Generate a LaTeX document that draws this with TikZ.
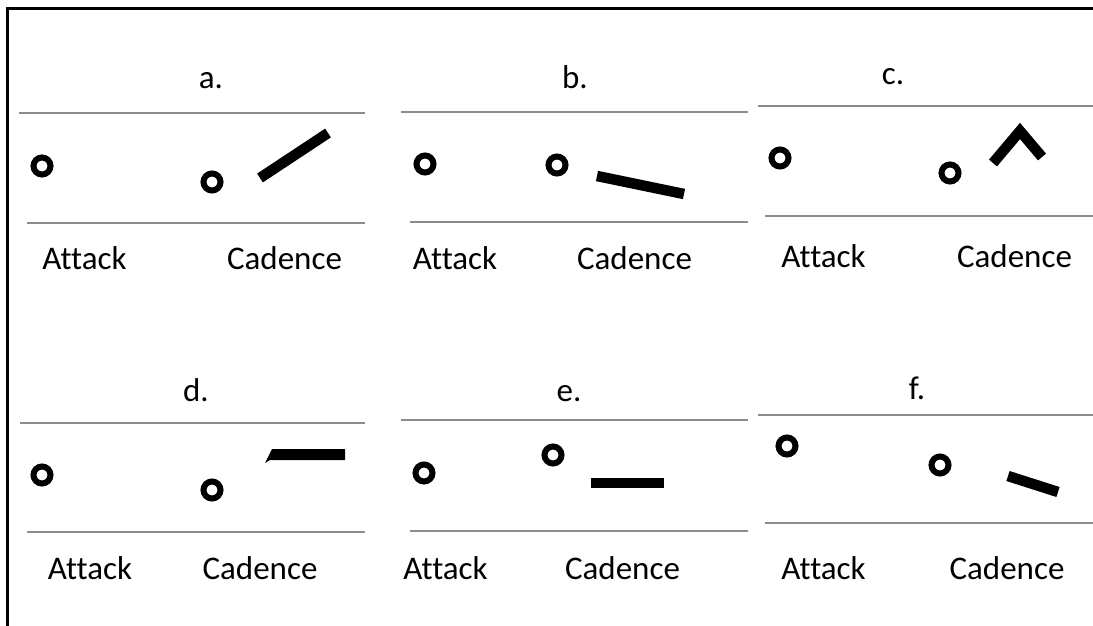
\documentclass[tikz,border=0pt]{standalone}
\usepackage{fontspec}
\setmainfont{Carlito}[Ligatures={NoCommon}]
\usepackage{tikz}
\usetikzlibrary{positioning}
\definecolor{rulegray}{RGB}{140,140,140}

\begin{document}
\begin{tikzpicture}[x=1bp, y=-1bp,
  txt/.style={font=\fontsize{33bp}{40bp}\selectfont, anchor=base, inner sep=0pt},
  ring/.style={circle, draw, line width=6bp, minimum size=17bp, inner sep=0pt},
  bar/.style={line width=10.5bp, line cap=butt},
  rule/.style={rulegray, line width=2bp}]

\path[use as bounding box, fill=white] (0,0) rectangle (1093,626);
% frame, top and left only
\fill (6,7) rectangle (1093,10);
\fill (6,7) rectangle (9,626);

% panel labels
\node[txt] (la) at (211,89) {a.};
\node[txt] (lb) at (575,89) {b.};
\node[txt] (lc) at (893,85) {c.};
\node[txt] (ld) at (196,401) {d.};
\node[txt] (le) at (569,401) {e.};
\node[txt] (lf) at (917,399) {f.};

% staff lines
\draw[rule] (19,113) -- (365,113);
\draw[rule] (27,223) -- (365,223);
\draw[rule] (401,112) -- (748,112);
\draw[rule] (410,222) -- (748,222);
\draw[rule] (758,106) -- (1093,106);
\draw[rule] (765,216) -- (1093,216);
\draw[rule] (20,423) -- (365,423);
\draw[rule] (27,532) -- (365,532);
\draw[rule] (401,420) -- (748,420);
\draw[rule] (410,531) -- (748,531);
\draw[rule] (758,415) -- (1093,415);
\draw[rule] (765,523) -- (1093,523);

% attack and cadence notes
\node[ring] (aatt) at (42,166) {};
\node[ring] (acad) at (212,182) {};
\draw[bar] (260,178) -- (328,133);

\node[ring] (batt) at (425,164) {};
\node[ring] (bcad) at (557,165) {};
\draw[bar] (597,176) -- (684,194);

\node[ring] (catt) at (780,158) {};
\node[ring] (ccad) at (950,173) {};
\draw[bar, line join=miter] (993,163) -- (1020,131) -- (1042,157);

\node[ring] (datt) at (42,475) {};
\node[ring] (dcad) at (212,490) {};
\fill (272,449) -- (345,449) -- (345,460) -- (270,460) -- (265,463) -- cycle;

\node[ring] (eatt) at (424,473) {};
\node[ring] (ecad) at (553,455) {};
\draw[bar] (591,483) -- (664,483);

\node[ring] (fatt) at (787,446) {};
\node[ring] (fcad) at (940,465) {};
\draw[bar] (1008,476) -- (1058,492);

% captions
\node[txt] (aa) at (84.5,270) {Attack};
\node[txt] (ac) at (284.5,270) {Cadence};
\node[txt] (ba) at (455,270) {Attack};
\node[txt] (bc) at (634.5,270) {Cadence};
\node[txt] (ca) at (823.5,268) {Attack};
\node[txt] (cc) at (1014.5,268) {Cadence};
\node[txt] (da) at (90,579) {Attack};
\node[txt] (dc) at (260,579) {Cadence};
\node[txt] (ea) at (445.5,579) {Attack};
\node[txt] (ec) at (622.5,579) {Cadence};
\node[txt] (fa) at (823.5,579) {Attack};
\node[txt] (fc) at (1007,579) {Cadence};

\end{tikzpicture}
\end{document}
